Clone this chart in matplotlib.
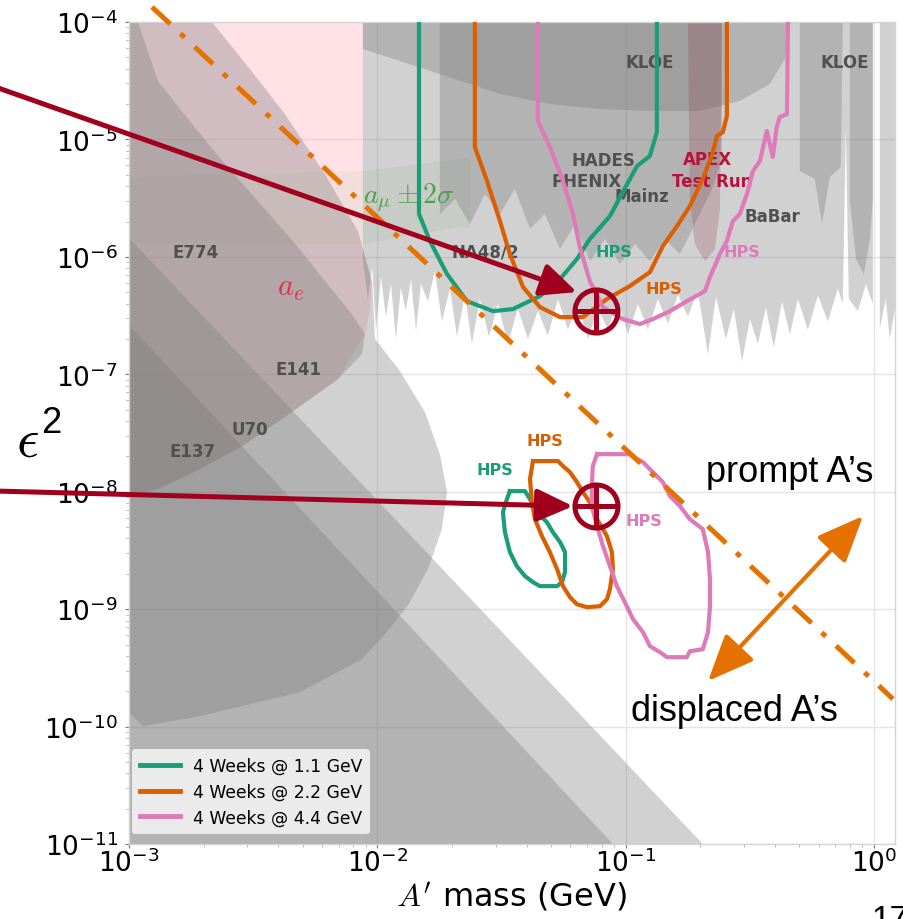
import numpy as np
import matplotlib.pyplot as plt

plt.rcParams['font.family'] = ['DejaVu Sans']

# ── Data: outlines as (log10 A' mass [GeV], log10 eps^2) ──
ae_region = [(-3.0, -4.0), (-2.058, -4.0), (-2.058, -5.934), (-2.021, -6.232), (-2.029, -6.445),
             (-2.05, -6.658), (-2.158, -7.041), (-2.344, -7.322), (-2.545, -7.612), (-2.714, -7.808),
             (-2.883, -7.978), (-3.0, -8.038)]

amu_band = [(-3.0, -5.32), (-2.058, -5.269), (-1.667, -5.167), (-1.627, -5.15),
            (-1.627, -5.76), (-1.667, -5.746), (-2.058, -5.891), (-3.0, -5.891)]

dump_banana = [(-2.666, -4.0), (-2.513, -4.40), (-2.372, -4.784), (-2.211, -5.295), (-2.078, -5.78),
               (-2.021, -6.206), (-2.009, -6.70), (-1.909, -6.973), (-1.808, -7.322), (-1.748, -7.68),
               (-1.719, -8.004), (-1.740, -8.319), (-1.796, -8.659), (-1.876, -8.966), (-1.969, -9.213),
               (-2.062, -9.426), (-2.311, -9.707), (-2.714, -9.911), (-2.944, -9.997), (-3.0, -9.877),
               (-3.0, -4.0)]

dump_e141 = [(-2.964, -4.0), (-2.883, -4.503), (-2.746, -4.869), (-2.613, -5.21), (-2.481, -5.525),
             (-2.319, -5.917), (-2.211, -6.206), (-2.102, -6.487), (-2.05, -6.658), (-2.062, -6.828),
             (-2.158, -7.041), (-2.344, -7.322), (-2.545, -7.612), (-2.714, -7.808), (-2.883, -7.978),
             (-3.0, -8.038), (-3.0, -4.0)]

dump_diag_outer = [(-3.0, -5.84), (-0.689, -11.0), (-3.0, -11.0)]
dump_diag_inner = [(-3.0, -6.581), (-1.051, -11.0), (-3.0, -11.0)]

babar_na48 = [(-2.058, -4.0), (-2.058, -6.04), (-2.038, -6.36), (-2.021, -6.09), (-2.005, -6.62),
              (-1.985, -6.17), (-1.965, -6.51), (-1.945, -6.23), (-1.925, -6.70), (-1.905, -6.26),
              (-1.885, -6.46), (-1.864, -6.19), (-1.844, -6.63), (-1.824, -6.23), (-1.796, -6.38),
              (-1.768, -6.12), (-1.740, -6.55), (-1.707, -6.27), (-1.679, -6.68), (-1.647, -6.32),
              (-1.619, -6.74), (-1.587, -6.36), (-1.550, -6.68), (-1.514, -6.40), (-1.474, -6.74),
              (-1.434, -6.44), (-1.393, -6.70), (-1.353, -6.46), (-1.313, -6.67), (-1.272, -6.36),
              (-1.232, -6.62), (-1.192, -6.40), (-1.152, -6.70), (-1.111, -6.44), (-1.071, -6.62),
              (-1.031, -6.36), (-0.990, -6.66), (-0.950, -6.40), (-0.910, -6.62), (-0.870, -6.36),
              (-0.829, -6.57), (-0.789, -6.32), (-0.749, -6.51), (-0.709, -6.29), (-0.668, -6.83),
              (-0.636, -6.34), (-0.596, -6.70), (-0.564, -6.44), (-0.531, -6.89), (-0.499, -6.53),
              (-0.467, -6.74), (-0.435, -6.43), (-0.403, -6.77), (-0.370, -6.38), (-0.338, -6.66),
              (-0.306, -6.36), (-0.266, -6.62), (-0.225, -6.33), (-0.185, -6.55), (-0.145, -6.27),
              (-0.125, -6.40), (-0.113, -4.89), (-0.101, -6.36), (-0.064, -6.46), (-0.032, -6.23),
              (-0.004, -6.40), (-0.004, -4.0)]

hades_mainz = [(-1.748, -4.0), (-1.748, -5.635), (-1.687, -5.508), (-1.627, -5.721), (-1.566, -5.465),
               (-1.506, -5.635), (-1.446, -5.422), (-1.385, -5.763), (-1.325, -5.635), (-1.264, -5.934),
               (-1.204, -5.721), (-1.143, -6.036), (-1.083, -5.848), (-1.023, -6.061), (-0.962, -5.891),
               (-0.902, -6.036), (-0.842, -5.848), (-0.781, -5.976), (-0.741, -5.806), (-0.701, -5.635),
               (-0.652, -5.422), (-0.612, -5.167), (-0.612, -4.0)]

kloe_dome = [(-2.058, -4.0), (-2.058, -4.23), (-1.909, -4.332), (-1.687, -4.486), (-1.506, -4.613),
             (-1.305, -4.698), (-1.103, -4.741), (-0.902, -4.758), (-0.701, -4.758), (-0.540, -4.673),
             (-0.419, -4.528), (-0.358, -4.315), (-0.338, -4.0)]
kloe_right_a = [(-0.298, -4.0), (-0.298, -5.269), (-0.238, -5.337), (-0.209, -5.721), (-0.177, -5.320),
                (-0.133, -5.235), (-0.125, -4.0)]
kloe_right_b = [(-0.097, -4.0), (-0.097, -5.508), (-0.072, -6.019), (-0.040, -6.147), (-0.016, -5.848),
                (-0.004, -5.508), (-0.004, -4.0)]
edge_band = [(0.024, -4.0), (0.024, -6.615), (0.048, -6.359), (0.064, -6.70), (0.085, -6.445), (0.085, -4.0)]
apex_run = [(-0.749, -4.0), (-0.741, -5.508), (-0.721, -5.891), (-0.680, -6.036), (-0.640, -5.934),
            (-0.620, -5.593), (-0.612, -4.0)]

hps11_top = [(-1.832, -4.0), (-1.832, -5.635), (-1.788, -5.865), (-1.719, -6.147), (-1.639, -6.377),
             (-1.534, -6.462), (-1.454, -6.445), (-1.345, -6.334), (-1.264, -6.189), (-1.196, -6.019),
             (-1.144, -5.848), (-1.063, -5.653), (-1.011, -5.448), (-0.954, -5.227), (-0.902, -5.141),
             (-0.874, -4.937), (-0.874, -4.0)]
hps22_top = [(-1.607, -4.0), (-1.607, -5.065), (-1.558, -5.354), (-1.506, -5.695), (-1.466, -5.976),
             (-1.413, -6.257), (-1.345, -6.428), (-1.264, -6.513), (-1.172, -6.513), (-1.075, -6.359),
             (-0.983, -6.249), (-0.902, -6.130), (-0.850, -5.908), (-0.793, -5.738), (-0.741, -5.567),
             (-0.689, -5.337), (-0.648, -5.107), (-0.632, -4.971), (-0.608, -4.937), (-0.592, -4.801),
             (-0.592, -4.0)]
hps44_top = [(-1.353, -4.0), (-1.353, -4.843), (-1.305, -5.065), (-1.252, -5.354), (-1.212, -5.635),
             (-1.184, -5.917), (-1.144, -6.206), (-1.091, -6.428), (-1.011, -6.530), (-0.942, -6.572),
             (-0.890, -6.530), (-0.821, -6.462), (-0.753, -6.377), (-0.680, -6.291), (-0.660, -6.172),
             (-0.620, -5.976), (-0.592, -5.865), (-0.568, -5.695), (-0.540, -5.635), (-0.511, -5.465),
             (-0.487, -5.269), (-0.459, -5.184), (-0.431, -4.928), (-0.407, -5.150), (-0.391, -4.894),
             (-0.379, -4.809), (-0.350, -4.784), (-0.346, -4.0)]

hps11_low = [(-1.466, -7.995), (-1.405, -7.995), (-1.385, -8.063), (-1.357, -8.174), (-1.317, -8.259),
             (-1.293, -8.344), (-1.264, -8.429), (-1.244, -8.514), (-1.244, -8.685), (-1.256, -8.770),
             (-1.276, -8.804), (-1.345, -8.804), (-1.373, -8.770), (-1.405, -8.719), (-1.438, -8.634),
             (-1.466, -8.514), (-1.486, -8.344), (-1.494, -8.174), (-1.478, -8.063), (-1.466, -7.995)]
hps22_low = [(-1.373, -7.739), (-1.272, -7.739), (-1.252, -7.782), (-1.224, -7.833), (-1.196, -7.918),
             (-1.172, -8.003), (-1.144, -8.089), (-1.115, -8.234), (-1.075, -8.378), (-1.055, -8.514),
             (-1.051, -8.659), (-1.063, -8.830), (-1.075, -8.915), (-1.103, -8.975), (-1.156, -8.983),
             (-1.196, -8.958), (-1.224, -8.898), (-1.252, -8.804), (-1.276, -8.659), (-1.305, -8.514),
             (-1.337, -8.378), (-1.365, -8.234), (-1.377, -8.089), (-1.385, -7.893), (-1.373, -7.739)]
hps44_low = [(-1.115, -7.680), (-0.983, -7.680), (-0.954, -7.722), (-0.930, -7.748), (-0.890, -7.833),
             (-0.850, -7.918), (-0.821, -8.038), (-0.781, -8.123), (-0.741, -8.234), (-0.689, -8.319),
             (-0.668, -8.514), (-0.660, -8.745), (-0.660, -8.975), (-0.668, -9.196), (-0.689, -9.341),
             (-0.741, -9.358), (-0.753, -9.409), (-0.833, -9.409), (-0.862, -9.366), (-0.902, -9.315),
             (-0.930, -9.196), (-0.970, -9.085), (-0.995, -8.975), (-1.035, -8.804), (-1.063, -8.634),
             (-1.091, -8.463), (-1.115, -8.293), (-1.136, -8.123), (-1.136, -7.952), (-1.132, -7.782),
             (-1.115, -7.680)]

hps_labels = ["4 Weeks @ 1.1 GeV", "4 Weeks @ 2.2 GeV", "4 Weeks @ 4.4 GeV"]
hps_colors = ["#1b9e77", "#d95f02", "#de7ab8"]

# region names and where they sit (mass GeV, eps^2)
exp_names = ["E774", "E141", "U70", "E137", "KLOE", "KLOE", "HADES", "PHENIX", "Mainz", "BaBar", "NA48/2"]
exp_mass = [1.85e-3, 4.80e-3, 3.07e-3, 1.80e-3, 0.125, 0.764, 0.0811, 0.0699, 0.1164, 0.392, 0.0272]
exp_eps2 = [1.10e-6, 1.11e-7, 3.41e-8, 2.22e-8, 4.56e-5, 4.56e-5, 6.68e-6, 4.43e-6, 3.30e-6, 2.23e-6, 1.12e-6]

hps_text_mass = [0.0897, 0.1425, 0.294, 0.0298, 0.0473, 0.1186]
hps_text_eps2 = [1.12e-6, 5.42e-7, 1.12e-6, 1.56e-8, 2.75e-8, 5.72e-9]
hps_text_color = [0, 1, 2, 0, 1, 2]

# highlighted reach points and arrow tips
target_mass = [0.076, 0.076]
target_eps2 = [3.45e-7, 7.53e-9]
arrow_tip_mass = [0.0637, 0.0614]
arrow_tip_eps2 = [5.01e-7, 7.53e-9]

RED = "#a0001e"
ORANGE = "#e57200"
GREY = "#7a7a7a"


def xy(pts):
    a = 10.0 ** np.array(pts)
    return a[:, 0], a[:, 1]


fig = plt.figure(figsize=(9.04, 9.20), dpi=100)
ax = fig.add_axes([0.1427, 0.0815, 0.8473, 0.8935])
ax.set_xscale("log")
ax.set_yscale("log")
ax.set_axisbelow(True)
ax.grid(True, which="major", color="#e4e4e4", lw=1.0)

# ── shaded exclusion regions ──
ax.fill(*xy(ae_region), color="#ffb8c4", alpha=0.42, lw=0, zorder=1)
ax.fill(*xy(amu_band), color="#a9cfa4", alpha=0.16, lw=0, zorder=1.1)
for reg in [dump_banana, dump_e141, dump_diag_outer, dump_diag_inner,
            babar_na48, hades_mainz, kloe_dome, kloe_right_a, kloe_right_b, edge_band]:
    ax.fill(*xy(reg), color=GREY, alpha=0.34, lw=0, zorder=1.5)
ax.fill(*xy(apex_run), color="#8a3040", alpha=0.22, lw=0, zorder=1.6)

# ── HPS reach contours ──
for top, low, col, lab in zip([hps11_top, hps22_top, hps44_top],
                              [hps11_low, hps22_low, hps44_low], hps_colors, hps_labels):
    ax.plot(*xy(top), color=col, lw=3, zorder=4, label=lab)
    ax.plot(*xy(low), color=col, lw=3, zorder=4)

# ── region labels ──
for nm, mx, ey in zip(exp_names, exp_mass, exp_eps2):
    ax.text(mx, ey, nm, fontsize=12, fontweight="bold", color="#505050",
            ha="center", va="center", zorder=3)
ax.text(0.213, 6.81e-6, "APEX", fontsize=12, fontweight="bold", color="#b5123c",
        ha="center", va="center", zorder=3)
ax.text(0.223, 4.43e-6, "Test Run", fontsize=12, fontweight="bold", color="#b5123c",
        ha="center", va="center", zorder=3)
for mx, ey, ci in zip(hps_text_mass, hps_text_eps2, hps_text_color):
    ax.text(mx, ey, "HPS", fontsize=11.5, fontweight="bold", color=hps_colors[ci],
            ha="center", va="center", zorder=3)
ax.text(4.49e-3, 5.53e-7, r"$a_e$", fontsize=22, color="#e0203c", alpha=0.85,
        ha="center", va="center", math_fontfamily="cm", zorder=3)
ax.text(1.34e-2, 3.23e-6, r"$a_\mu\pm2\sigma$", fontsize=20, color="#3f9a3f", alpha=0.9,
        ha="center", va="center", math_fontfamily="cm", zorder=3)

# ── axes cosmetics ──
ax.set_xlim(1e-3, 10 ** 0.085)
ax.set_ylim(1e-11, 1e-4)
for sp in ax.spines.values():
    sp.set_edgecolor("#d4d4d4")
    sp.set_linewidth(1.0)
ax.tick_params(which="major", labelsize=19, length=3, color="#777777")
ax.tick_params(which="minor", length=2, color="#aaaaaa")
ax.tick_params(axis="x", which="major", pad=0.5)
ax.tick_params(axis="y", which="major", pad=5)
ax.set_xlabel(r"$A'$ mass (GeV)", fontsize=23, labelpad=2, math_fontfamily="cm")

leg = ax.legend(loc="lower left", bbox_to_anchor=(0.004, 0.012), borderaxespad=0,
                fontsize=12.3, handlelength=2.35, handletextpad=0.75, labelspacing=0.45,
                borderpad=0.45, frameon=True, facecolor="#ebebeb", edgecolor="none",
                framealpha=1.0)
for ln in leg.get_lines():
    ln.set_linewidth(3.5)

# ── overlays: prompt / displaced boundary and pointer arrows ──
ax.plot([0.1681, 0.9878], [0.9913, 0.2391], transform=fig.transFigure, clip_on=False,
        color=ORANGE, lw=3.6, dashes=(5, 2.8, 1.1, 2.8), zorder=6)
ax.annotate("", xy=(0.9546, 0.4380), xycoords="figure fraction",
            xytext=(0.7832, 0.2587), textcoords="figure fraction",
            arrowprops=dict(arrowstyle="<|-|>,head_length=1.3,head_width=0.55", color=ORANGE,
                            lw=3, mutation_scale=22, shrinkA=0, shrinkB=0),
            annotation_clip=False, zorder=6)

starts = [(-0.005, 0.9043), (-0.005, 0.4652)]
for (sx, sy), tm, te in zip(starts, arrow_tip_mass, arrow_tip_eps2):
    ax.annotate("", xy=(tm, te), xycoords="data", xytext=(sx, sy), textcoords="figure fraction",
                arrowprops=dict(arrowstyle="-|>,head_length=1.1,head_width=0.5", color=RED,
                                lw=3.6, mutation_scale=20, shrinkA=0, shrinkB=0),
                annotation_clip=False, zorder=7)
ax.plot(target_mass, target_eps2, "o", ms=31, mfc="none", mec=RED, mew=3.6, zorder=8, clip_on=False)
ax.plot(target_mass, target_eps2, "+", ms=31, mec=RED, mew=3.6, zorder=8, clip_on=False)

fig.text(0.8739, 0.4859, "prompt A’s", fontsize=26, family="Liberation Sans",
         ha="center", va="center")
fig.text(0.8119, 0.2261, "displaced A’s", fontsize=26, family="Liberation Sans",
         ha="center", va="center")
# y-axis symbol: lunate epsilon with a sans-serif exponent
fig.text(0.0299, 0.5196, r"$\epsilon$", fontsize=40, math_fontfamily="cm",
         ha="center", va="center")
fig.text(0.0564, 0.5402, "2", fontsize=26, family="Liberation Sans",
         ha="center", va="center")
fig.text(0.9646, 0.0163, "17", fontsize=24, family="Liberation Sans", ha="left", va="top")

fig.savefig("out.png", dpi=100, facecolor="white")
